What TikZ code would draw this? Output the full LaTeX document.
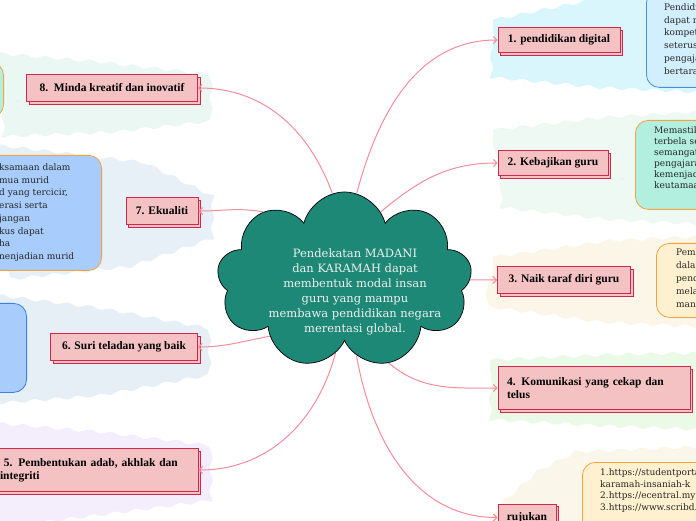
\documentclass[tikz,border=0pt]{standalone}
\usepackage{fontspec}
\setmainfont{DejaVu Serif}
\newfontfamily\labelfont{Liberation Serif}
\usepackage{tikz}
\usetikzlibrary{shapes.symbols,shadows,arrows.meta,decorations.pathmorphing}
\definecolor{awan}{HTML}{1D8876}
\definecolor{garis}{HTML}{F48C9A}
\definecolor{kotak}{HTML}{F5C2C4}
\definecolor{tepi}{HTML}{D0284C}
\definecolor{langit}{HTML}{D2EFFE}
\definecolor{birugaris}{HTML}{4A90D9}
\definecolor{pudina}{HTML}{B3EFDF}
\definecolor{oren}{HTML}{F4A240}
\definecolor{krim}{HTML}{FFF1CF}
\definecolor{biru}{HTML}{A8CCFB}
\definecolor{birutua}{HTML}{3B7FE0}
\definecolor{wA}{HTML}{D8F6FB}
\definecolor{wB}{HTML}{EEF9F3}
\definecolor{wC}{HTML}{FBF6E7}
\definecolor{wD}{HTML}{EBFAE6}
\definecolor{wR}{HTML}{FBF6EA}
\definecolor{wH}{HTML}{EBF7F2}
\definecolor{wG}{HTML}{E7F0F6}
\definecolor{wF}{HTML}{E6EFF6}
\definecolor{wE}{HTML}{F4EEFC}

\begin{document}
\begin{tikzpicture}[x=1pt,y=1pt,
    latar/.style={decorate,decoration={snake,amplitude=1.5pt,segment length=22pt}},
    gelembung/.style={rounded corners=13pt,line width=0.8pt,inner sep=0pt},
    nota/.style={anchor=north west,inner sep=0pt,align=left,text=black!85,
      font=\fontsize{9}{12.7}\selectfont},
    cabang/.style={draw=tepi,fill=kotak,line width=0.9pt,inner sep=0pt,
      copy shadow={shadow xshift=2.5pt,shadow yshift=-2.5pt},
      font=\labelfont\bfseries\fontsize{11.5}{13}\selectfont},
    sambung/.style={draw=garis,line width=1pt,-{Straight Barb[length=3.5pt,width=7pt]}}]
  \useasboundingbox (0,0) rectangle (696,520);
  \clip (0,0) rectangle (696,520);

  \fill[wA,latar] (493,500) -- (600,522) -- (705,525) -- (705,427) -- (600,432) -- (493,442) -- cycle;
  \fill[wB,latar] (493,390) -- (600,402) -- (705,408) -- (705,305) -- (600,310) -- (493,322) -- cycle;
  \fill[wC,latar] (493,263) -- (600,278) -- (705,283) -- (705,195) -- (600,200) -- (493,215) -- cycle;
  \fill[wD,latar] (490,160) -- (600,165) -- (705,167) -- (705,93) -- (600,97) -- (490,103) -- cycle;
  \fill[wR,latar] (490,-5) -- (493,3) -- (540,45) -- (580,65) -- (705,70) -- (705,-5) -- cycle;
  \fill[wH,latar] (-5,467) -- (100,458) -- (207,446) -- (207,408) -- (100,396) -- (-5,392) -- cycle;
  \fill[wG,latar] (-5,375) -- (140,358) -- (207,325) -- (207,285) -- (120,255) -- (-5,242) -- cycle;
  \fill[wF,latar] (-5,225) -- (100,212) -- (207,192) -- (207,148) -- (100,128) -- (-5,120) -- cycle;
  \fill[wE,latar] (-5,97) -- (100,88) -- (207,75) -- (207,22) -- (100,8) -- (-5,-5) -- cycle;

  \node[gelembung,draw=birugaris,fill=langit,anchor=north west,minimum width=150pt,minimum height=97pt] (N1) at (646,530) {};
  \node[gelembung,draw=oren,fill=pudina,anchor=north west,minimum width=150pt,minimum height=89pt] (N2) at (635,400) {};
  \node[gelembung,draw=oren,fill=krim,anchor=north west,minimum width=150pt,minimum height=74pt] (N3) at (656,277) {};
  \node[gelembung,draw=oren,fill=krim,anchor=north west,minimum width=200pt,minimum height=100pt] (NR) at (582,58) {};
  \node[gelembung,draw=oren,fill=pudina,anchor=north east,minimum width=120pt,minimum height=55pt] (N8) at (4,458) {};
  \node[gelembung,draw=oren,fill=biru,anchor=north east,minimum width=220pt,minimum height=115pt] (N7) at (102,365) {};
  \node[gelembung,draw=birutua,fill=biru,anchor=north east,minimum width=150pt,minimum height=89pt] (N6) at (27,217) {};

  \node[nota] (T1) at (664,516.5) {Pendidikan digital\\dapat meningkatkan\\kompetensi guru\\seterusnya\\pengajaran\\bertaraf dunia};
  \node[nota,font=\fontsize{9}{11}\selectfont] (T2) at (654,393.5) {Memastikan kebajikan\\terbela sepenuhnya\\semangat guru dalam\\pengajaran demi\\kemenjadian murid\\keutamaan negara};
  \node[nota,font=\fontsize{9}{13}\selectfont] (T3) at (676,271.5) {Pembangunan\\dalam bidang\\pendidikan\\melalui kursus\\manfaat};
  \node[nota,font=\fontsize{9}{11.7}\selectfont] (TR) at (600,51.5) {1.https://studentportal\\karamah-insaniah-k\\2.https://ecentral.my\\3.https://www.scribd.com};
  \node[nota] (T7) at (-1,356.5) {ksamaan dalam\\mua murid\\d yang tercicir,\\erasi serta\\jangan\\kus dapat\\ha\\nenjadian murid};

  \node[cabang,minimum width=122pt,minimum height=25pt] (K1) at (559,480) {1. pendidikan digital};
  \node[cabang,minimum width=110pt,minimum height=25pt] (K2) at (553,357) {2. Kebajikan guru};
  \node[cabang,minimum width=133pt,minimum height=27pt] (K3) at (564,240) {3. Naik taraf diri guru};
  \node[cabang,minimum width=192pt,minimum height=43pt,text width=174pt,align=left] (K4) at (594,132) {4. Komunikasi yang cekap dan\\telus};
  \node[cabang,minimum width=58pt,minimum height=27pt] (KR) at (527,2.5) {rujukan};
  \node[cabang,minimum width=171pt,minimum height=27pt] (K8) at (112,432) {8.\ \ Minda kreatif dan inovatif};
  \node[cabang,minimum width=72pt,minimum height=27pt] (K7) at (162,309) {7. Ekualiti};
  \node[cabang,minimum width=147pt,minimum height=27pt] (K6) at (124,173) {6. Suri teladan yang baik};
  \node[cabang,minimum width=208pt,minimum height=43pt,text width=188pt,align=left] (K5) at (94,50) {\hspace*{4pt}5. Pembentukan adab, akhlak dan\\integriti};

  \node[cloud,cloud puffs=9,cloud ignores aspect,draw=black,fill=awan,line width=0.7pt,
    minimum width=255pt,minimum height=176pt] (pusat) at (344.5,240) {};
  \node[align=center,text=white!94!black,font=\fontsize{11.5}{15}\selectfont] (ptxt) at (355,228)
    {Pendekatan MADANI\\dan KARAMAH dapat\\membentuk modal insan\\guru yang mampu\\membawa pendidikan negara\\merentasi global.};

  \draw[sambung] (pusat.82) to[out=75,in=180] (K1.west);
  \draw[sambung] (pusat.98) to[out=110,in=0] (K8.east);
  \draw[sambung] (pusat.62) to[out=40,in=180] (K2.west);
  \draw[sambung] (pusat.140) to[out=170,in=0] (K7.east);
  \draw[sambung] (pusat.0) -- (K3.west);
  \draw[sambung] (pusat.217) to[out=190,in=0] (K6.east);
  \draw[sambung] (pusat.298) to[out=-40,in=180] (K4.west);
  \draw[sambung] (pusat.263) to[out=-105,in=0] (K5.east);
  \draw[sambung] (pusat.279) to[out=-80,in=180] (KR.west);
\end{tikzpicture}
\end{document}
